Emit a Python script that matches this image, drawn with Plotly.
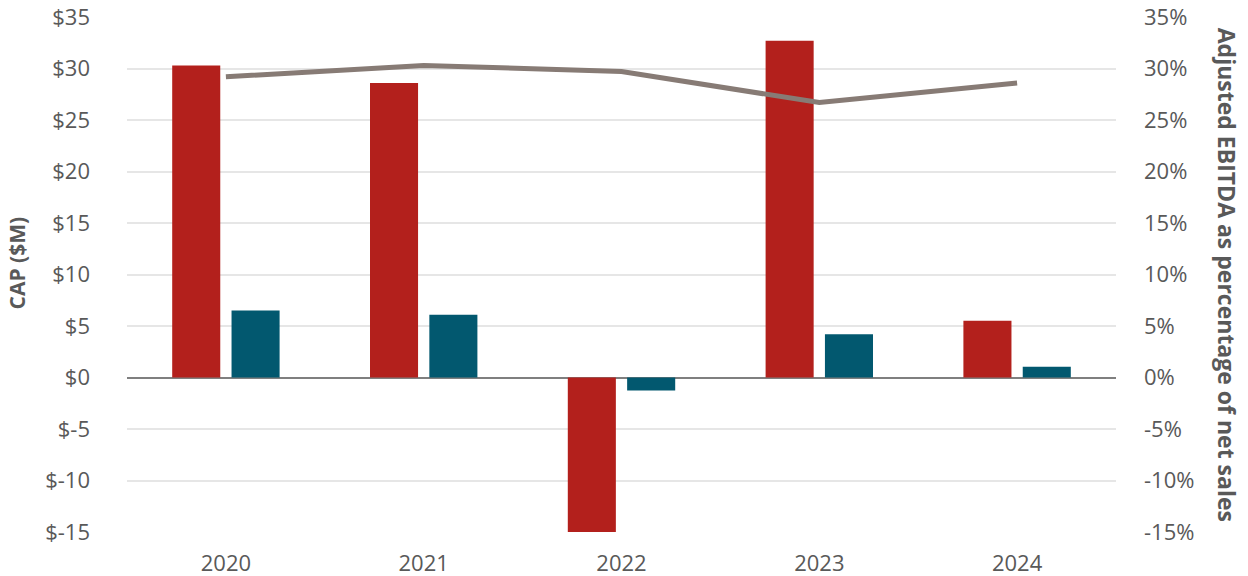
import plotly.graph_objects as go

years = ["2020", "2021", "2022", "2023", "2024"]
cap_red = [30.3, 28.6, -15.0, 32.7, 5.5]
cap_teal = [6.5, 6.1, -1.25, 4.2, 1.05]
ebitda_pct = [29.2, 30.3, 29.7, 26.7, 28.6]

left_ticks = [-15, -10, -5, 0, 5, 10, 15, 20, 25, 30, 35]
left_labels = ["$-15", "$-10", "$-5", "$0", "$5", "$10", "$15", "$20", "$25", "$30", "$35"]
right_ticks = [-15, -10, -5, 0, 5, 10, 15, 20, 25, 30, 35]
right_labels = ["-15%", "-10%", "-5%", "0%", "5%", "10%", "15%", "20%", "25%", "30%", "35%"]

RED = "#B3201C"
TEAL = "#02586F"
GRAY_LINE = "#877B75"
TXT = "#595959"
FONT = "Open Sans"

fig = go.Figure()
fig.add_trace(go.Bar(x=years, y=cap_red, marker=dict(color=RED, line=dict(width=0)), name="CAP red"))
fig.add_trace(go.Bar(x=years, y=cap_teal, marker=dict(color=TEAL, line=dict(width=0)), name="CAP teal"))
fig.add_trace(go.Scatter(x=years, y=ebitda_pct, yaxis="y2", mode="lines",
                         line=dict(color=GRAY_LINE, width=5), name="EBITDA %"))

fig.update_layout(
    width=1248, height=576,
    margin=dict(l=127, r=132, t=17, b=44),
    plot_bgcolor="white", paper_bgcolor="white",
    showlegend=False,
    barmode="group", bargap=0.40, bargroupgap=0.19,
    font=dict(family=FONT, color=TXT, size=22),
    xaxis=dict(showgrid=False, showline=False, ticks="", tickfont=dict(size=22, color=TXT),
               ticklabelstandoff=16, automargin=False),
    yaxis=dict(range=[-15, 35], tickvals=left_ticks, ticktext=left_labels,
               showgrid=True, gridcolor="#E6E6E6", gridwidth=2,
               zeroline=True, zerolinecolor="#7F7F7F", zerolinewidth=2,
               showline=False, ticks="", ticklabelstandoff=36, automargin=False,
               tickfont=dict(size=22, color=TXT)),
    yaxis2=dict(range=[-15, 35], tickvals=right_ticks, ticktext=right_labels,
                overlaying="y", side="right", showgrid=False, zeroline=False,
                showline=False, ticks="", ticklabelstandoff=27, automargin=False,
                tickfont=dict(size=22, color=TXT)),
    annotations=[
        dict(text="<b>CAP ($M)</b>", xref="paper", yref="paper", x=-0.111, y=0.522,
             xanchor="center", yanchor="middle", textangle=-90, showarrow=False,
             font=dict(family=FONT, size=21, color=TXT)),
        dict(text="<b>Adjusted EBITDA as percentage of net sales</b>", xref="paper", yref="paper",
             x=1.113, y=0.5, xanchor="center", yanchor="middle", textangle=90, showarrow=False,
             font=dict(family=FONT, size=23, color=TXT)),
    ],
)

fig.write_html("out.html", config={"displayModeBar": False},
               post_script="document.body.style.margin='0';")
